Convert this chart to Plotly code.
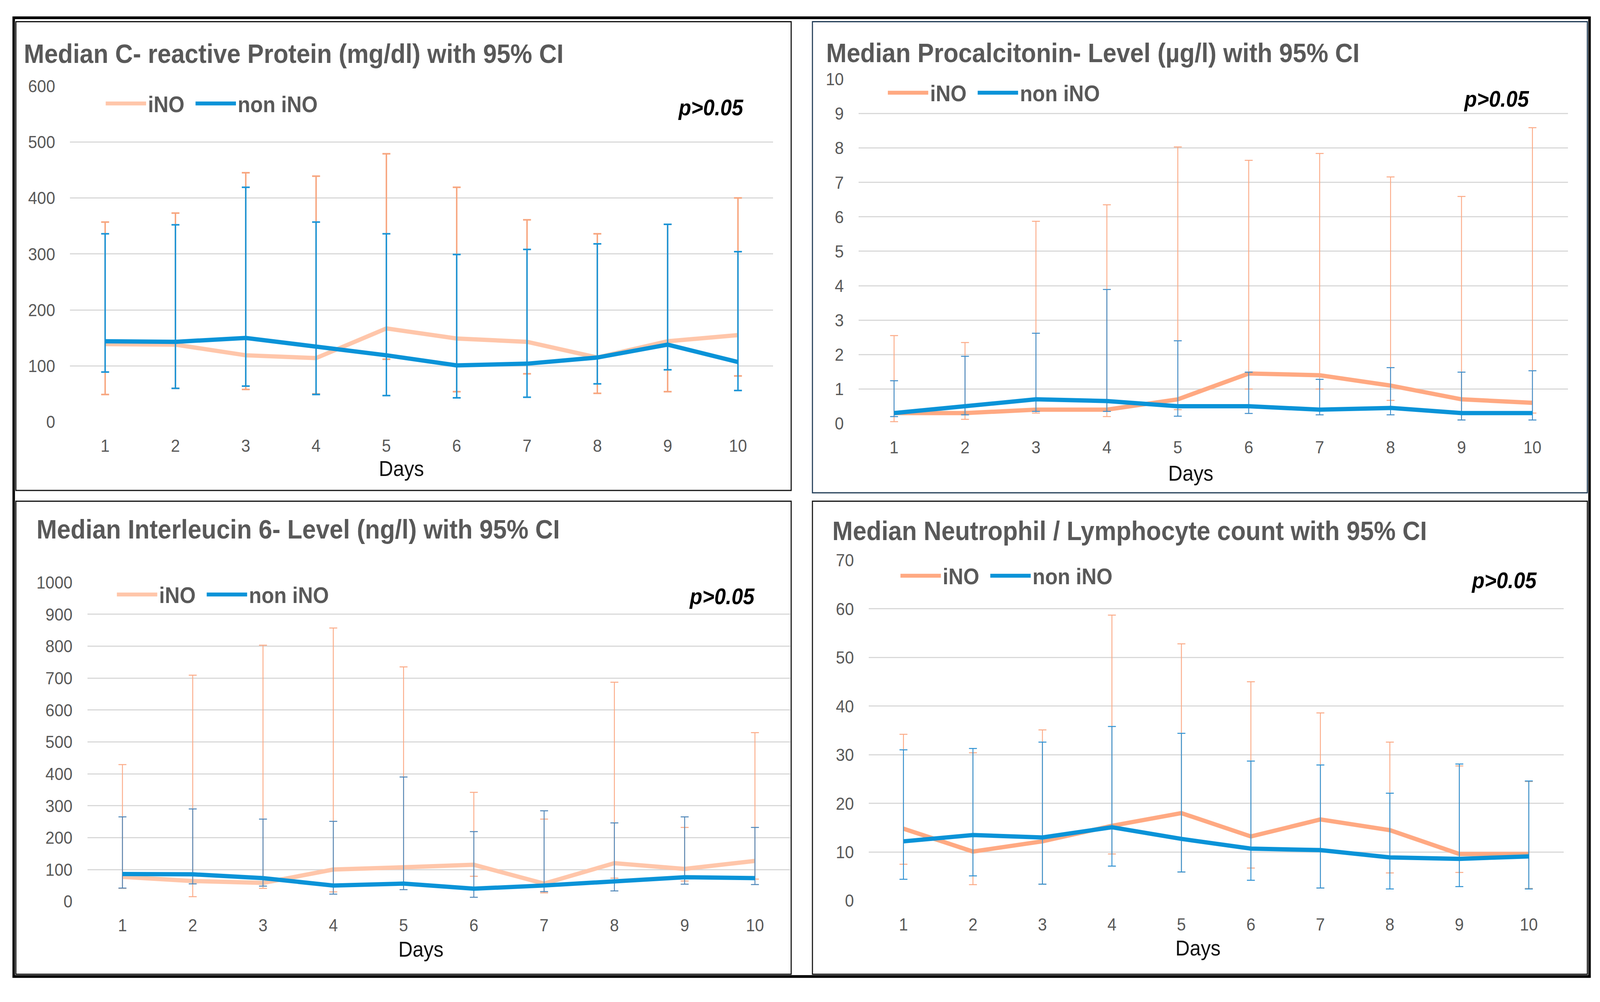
import plotly.graph_objects as go

W, H = 4435, 2564

days = [1, 2, 3, 4, 5, 6, 7, 8, 9, 10]
series_names = ["iNO", "non iNO"]

# C-reactive protein (mg/dl)
crp_ino_med = [139, 138, 119, 114, 167, 149, 143, 115, 144, 155]
crp_ino_lo = [49, 60, 58, 50, 112, 54, 86, 51, 54, 82]
crp_ino_hi = [357, 373, 445, 439, 479, 419, 361, 336, 353, 400]
crp_non_med = [144, 143, 150, 134, 119, 101, 104, 115, 138, 107]
crp_non_lo = [89, 60, 64, 49, 47, 43, 44, 68, 93, 56]
crp_non_hi = [336, 352, 419, 357, 336, 299, 308, 318, 353, 304]

# Procalcitonin (ug/l)
pct_ino_med = [0.3, 0.3, 0.4, 0.4, 0.7, 1.45, 1.4, 1.1, 0.7, 0.6]
pct_ino_lo = [0.05, 0.12, 0.3, 0.2, 0.4, 1.0, 1.0, 0.67, 0.1, 0.3]
pct_ino_hi = [2.55, 2.35, 5.87, 6.35, 8.03, 7.64, 7.84, 7.16, 6.59, 8.59]
pct_non_med = [0.3, 0.5, 0.7, 0.65, 0.5, 0.5, 0.4, 0.45, 0.3, 0.3]
pct_non_lo = [0.2, 0.25, 0.35, 0.35, 0.21, 0.29, 0.25, 0.25, 0.1, 0.1]
pct_non_hi = [1.24, 1.95, 2.62, 3.89, 2.4, 1.49, 1.28, 1.62, 1.49, 1.53]

# Interleucin 6 (ng/l)
il6_ino_med = [77, 64, 58, 100, 107, 115, 56, 120, 102, 127]
il6_ino_lo = [41, 15, 41, 30, 60, 79, 27, 73, 64, 70]
il6_ino_hi = [429, 709, 803, 857, 735, 342, 258, 687, 232, 529]
il6_non_med = [86, 85, 73, 50, 56, 40, 50, 63, 76, 73]
il6_non_lo = [42, 55, 48, 23, 37, 13, 31, 33, 54, 53]
il6_non_hi = [265, 290, 258, 251, 390, 219, 284, 246, 265, 232]

# Neutrophil / Lymphocyte
nlr_ino_med = [14.8, 10.1, 12.2, 15.4, 18.0, 13.2, 16.7, 14.5, 9.6, 9.6]
nlr_ino_lo = [7.5, 3.3, 3.4, 9.6, 5.9, 6.7, 2.6, 5.7, 5.8, 2.5]
nlr_ino_hi = [34.2, 30.4, 35.1, 58.7, 52.8, 45.0, 38.6, 32.6, 27.7, 24.5]
nlr_non_med = [12.2, 13.5, 13.0, 15.1, 12.7, 10.7, 10.4, 8.9, 8.6, 9.1]
nlr_non_lo = [4.4, 5.1, 3.4, 7.1, 5.9, 4.2, 2.6, 2.4, 2.9, 2.4]
nlr_non_hi = [31.0, 31.3, 32.6, 35.8, 34.4, 28.7, 27.9, 22.1, 28.1, 24.6]

titles = [
    "Median C- reactive Protein (mg/dl) with 95% CI",
    "Median Procalcitonin- Level (µg/l) with 95% CI",
    "Median Interleucin 6- Level (ng/l) with 95% CI",
    "Median Neutrophil / Lymphocyte count with 95% CI",
]
p_text = "p>0.05"
x_title = "Days"

FONT = "Liberation Sans, Arial, sans-serif"
GREY = "#595959"
BLUE = "#0A93D8"


def px(x):
    return x / W


def py(y):
    return 1 - y / H


panels = [
    dict(data=(crp_ino_med, crp_ino_lo, crp_ino_hi, crp_non_med, crp_non_lo, crp_non_hi),
         xdom=(194, 2143), ydom=(199, 1076), yr=(0, 600), dt=100,
         ino_line="#FFC6AA", ino_err="#F7A57E", non_err="#1B94D6", ew=4, cap=11,
         title=(64, 114), legend=(288, 245), p=(1970, 255), days=(1112, 1198),
         box=(44, 31, 2193, 1255), boxcol="#111111"),
    dict(data=(pct_ino_med, pct_ino_lo, pct_ino_hi, pct_non_med, pct_non_lo, pct_non_hi),
         xdom=(2380, 4346), ydom=(181, 1080), yr=(0, 10), dt=1,
         ino_line="#FFA982", ino_err="#FBAA86", non_err="#3F8DC9", ew=2.5, cap=11,
         title=(2288, 112), legend=(2456, 217), p=(4148, 233), days=(3300, 1210),
         box=(2252, 31, 4400, 1261), boxcol="#1F3A55"),
    dict(data=(il6_ino_med, il6_ino_lo, il6_ino_hi, il6_non_med, il6_non_lo, il6_non_hi),
         xdom=(242, 2190), ydom=(1495, 2328), yr=(0, 1000), dt=100,
         ino_line="#FFC6AA", ino_err="#FBAA86", non_err="#4F86B8", ew=2.5, cap=11,
         title=(99, 1356), legend=(319, 1527), p=(2001, 1531), days=(1166, 2453),
         box=(44, 1283, 2193, 2518), boxcol="#111111"),
    dict(data=(nlr_ino_med, nlr_ino_lo, nlr_ino_hi, nlr_non_med, nlr_non_lo, nlr_non_hi),
         xdom=(2408, 4334), ydom=(1437, 2326), yr=(0, 70), dt=10,
         ino_line="#FFA982", ino_err="#FBAA86", non_err="#2E91D2", ew=2.5, cap=11,
         title=(2305, 1360), legend=(2491, 1478), p=(4169, 1490), days=(3320, 2450),
         box=(2252, 1283, 4400, 2518), boxcol="#111111"),
]

fig = go.Figure()
layout = dict(
    width=W, height=H, margin=dict(l=0, r=0, t=0, b=0),
    paper_bgcolor="white", plot_bgcolor="white",
    font=dict(family=FONT, color=GREY),
    annotations=[], shapes=[],
)

for i, pnl in enumerate(panels):
    k = "" if i == 0 else str(i + 1)
    xa, ya, lg = "x" + k, "y" + k, "legend" + k
    im, il, ih, nm, nl, nh = pnl["data"]
    fig.add_trace(go.Scatter(
        x=days, y=im, mode="lines", name=series_names[0], legendwidth=122,
        line=dict(color=pnl["ino_line"], width=11),
        error_y=dict(type="data", symmetric=False,
                     array=[h - m for h, m in zip(ih, im)],
                     arrayminus=[m - l for m, l in zip(im, il)],
                     color=pnl["ino_err"], thickness=pnl["ew"], width=pnl["cap"]),
        xaxis=xa, yaxis=ya, legend=lg))
    fig.add_trace(go.Scatter(
        x=days, y=nm, mode="lines", name=series_names[1],
        line=dict(color=BLUE, width=11),
        error_y=dict(type="data", symmetric=False,
                     array=[h - m for h, m in zip(nh, nm)],
                     arrayminus=[m - l for m, l in zip(nm, nl)],
                     color=pnl["non_err"], thickness=pnl["ew"], width=pnl["cap"]),
        xaxis=xa, yaxis=ya, legend=lg))

    x0, x1 = pnl["xdom"]
    y0, y1 = pnl["ydom"]
    layout["xaxis" + k] = dict(
        domain=[px(x0), px(x1)], anchor=ya, range=[0.5, 10.5],
        tickvals=days, ticktext=[str(d) for d in days], showgrid=False,
        zeroline=False, showline=False, ticks="",
        tickfont=dict(size=45, color=GREY), ticklabelstandoff=30)
    layout["yaxis" + k] = dict(
        domain=[py(y1), py(y0)], anchor=xa, range=list(pnl["yr"]), dtick=pnl["dt"],
        showgrid=True, gridcolor="#D9D9D9", gridwidth=3, zeroline=False,
        showline=False, ticks="", tickfont=dict(size=45, color=GREY),
        ticklabelstandoff=40)
    lx, ly = pnl["legend"]
    layout[lg] = dict(
        x=px(lx), y=py(ly), xanchor="left", yanchor="middle",
        orientation="h", bgcolor="rgba(0,0,0,0)", itemwidth=112,
        font=dict(size=57, color=GREY, family=FONT, weight="bold"),
        tracegroupgap=0, itemclick=False)

    tx, ty = pnl["title"]
    layout["annotations"].append(dict(
        x=px(tx), y=py(ty), xref="paper", yref="paper", xanchor="left", yanchor="middle",
        text="<b>" + titles[i] + "</b>", showarrow=False,
        font=dict(size=68, color=GREY, family=FONT)))
    ppx, ppy = pnl["p"]
    layout["annotations"].append(dict(
        x=px(ppx), y=py(ppy), xref="paper", yref="paper", xanchor="center", yanchor="middle",
        text="<b><i>" + p_text + "</i></b>", showarrow=False,
        font=dict(size=57, color="#000000", family=FONT)))
    dx, dy = pnl["days"]
    layout["annotations"].append(dict(
        x=px(dx), y=py(dy), xref="paper", yref="paper", xanchor="center", yanchor="middle",
        text=x_title, showarrow=False,
        font=dict(size=55, color="#111111", family=FONT)))
    bx0, by0, bx1, by1 = pnl["box"]
    layout["shapes"].append(dict(
        type="rect", xref="paper", yref="paper",
        x0=px(bx0), x1=px(bx1), y0=py(by1), y1=py(by0),
        line=dict(color=pnl["boxcol"], width=3), fillcolor="rgba(0,0,0,0)"))

layout["shapes"].append(dict(
    type="rect", xref="paper", yref="paper",
    x0=px(38), x1=px(4406), y0=py(2524), y1=py(21),
    line=dict(color="#000000", width=7), fillcolor="rgba(0,0,0,0)"))

fig.update_layout(**layout)

# the browser viewport may be narrower than the figure: fit the fixed-size
# figure into the viewport so the whole chart is photographed
fit_js = """
(function(){
  var gd = document.getElementById('{plot_id}');
  var vw = window.innerWidth, vh = window.innerHeight;
  var kx = vw / %d, ky = vh / %d;
  document.documentElement.style.margin = '0';
  document.body.style.margin = '0';
  document.documentElement.style.overflow = 'hidden';
  document.body.style.overflow = 'hidden';
  var wrap = gd.parentElement;
  wrap.style.width = vw + 'px';
  wrap.style.height = vh + 'px';
  wrap.style.overflow = 'hidden';
  gd.style.transformOrigin = '0 0';
  gd.style.transform = 'scale(' + kx + ',' + ky + ')';
})();
""" % (W, H)

fig.write_html("out.html", post_script=fit_js, config={"displayModeBar": False})
